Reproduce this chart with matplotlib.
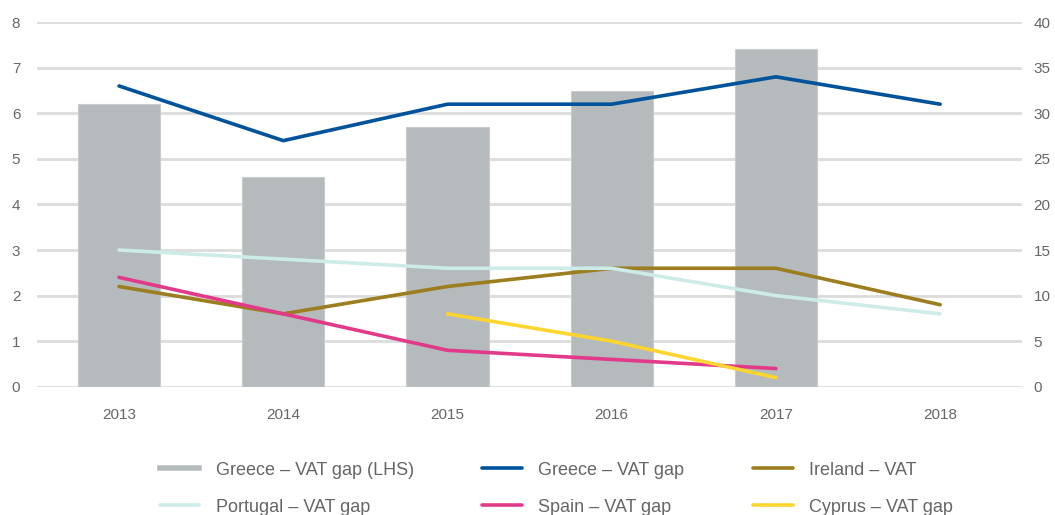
import matplotlib.pyplot as plt
import numpy as np
from matplotlib.lines import Line2D

years = ["2013", "2014", "2015", "2016", "2017", "2018"]
greece_bar = [6.2, 4.6, 5.7, 6.5, 7.4, np.nan]   # LHS
greece_line = [33, 27, 31, 31, 34, 31]            # RHS
ireland = [11, 8, 11, 13, 13, 9]
portugal = [15, 14, 13, 13, 10, 8]
spain = [12, 8, 4, 3, 2, np.nan]
cyprus = [np.nan, np.nan, 8, 5, 1, np.nan]

plt.rcParams['font.family'] = ['Liberation Sans', 'DejaVu Sans']

fig = plt.figure(figsize=(10.55, 5.15), dpi=100)
ax = fig.add_axes([0.035, 0.249, 0.934, 0.708])
ax2 = ax.twinx()

x = np.arange(len(years))
grid_c = '#dcdcdc'
txt_c = '#666666'

ax.bar(x, greece_bar, width=0.5, color='#b5babc', edgecolor='#c8cccd', linewidth=0.8,
       label='Greece – VAT gap (LHS)', zorder=2)
ax.set_ylim(0, 8)
ax.set_xlim(-0.5, 5.5)
ax.set_yticks(range(0, 9))
ax.set_xticks(x)
ax.set_xticklabels(years)
for v in range(0, 9):
    ax.axhline(v, color=grid_c, lw=2, zorder=1)

lw = 2.6
lines = [
    (greece_line, '#00529b', 'Greece – VAT gap'),
    (ireland, '#9c7d1f', 'Ireland – VAT'),
    (portugal, '#cdece8', 'Portugal – VAT gap'),
    (spain, '#e23a8a', 'Spain – VAT gap'),
    (cyprus, '#fdd52e', 'Cyprus – VAT gap'),
]
handles = {}
for vals, c, lab in lines:
    h, = ax2.plot(x, vals, color=c, lw=lw, label=lab, solid_capstyle='round', zorder=3)
    handles[lab] = h
ax2.set_ylim(0, 40)
ax2.set_yticks(range(0, 41, 5))

for a in (ax, ax2):
    for s in a.spines.values():
        s.set_visible(False)
    a.tick_params(length=0, labelsize=11, labelcolor=txt_c)
ax.tick_params(axis='x', pad=15)
ax.tick_params(axis='y', pad=12)
ax2.tick_params(axis='y', pad=8)
ax.set_zorder(ax2.get_zorder() - 1)
ax.patch.set_visible(True)
ax2.patch.set_visible(False)

bar_proxy = Line2D([], [], color='#b5babc', lw=4)
order = [bar_proxy, handles['Portugal – VAT gap'], handles['Greece – VAT gap'],
         handles['Spain – VAT gap'], handles['Ireland – VAT'], handles['Cyprus – VAT gap']]
labels = ['Greece – VAT gap (LHS)', 'Portugal – VAT gap', 'Greece – VAT gap',
          'Spain – VAT gap', 'Ireland – VAT', 'Cyprus – VAT gap']
fig.legend(order, labels, ncol=3, loc='upper left', bbox_to_anchor=(0.136, 0.135),
           frameon=False, fontsize=13, labelcolor=txt_c, handlelength=2.2,
           columnspacing=3.8, labelspacing=1.1, handletextpad=0.9)

fig.savefig('out.png', dpi=100)
